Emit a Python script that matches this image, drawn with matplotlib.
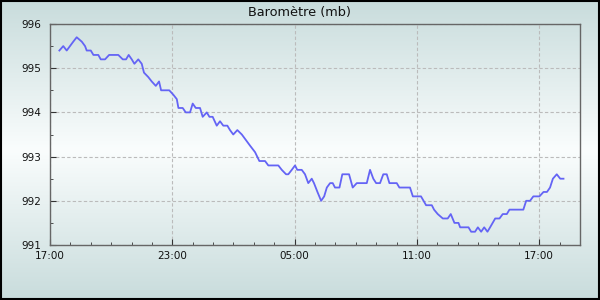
import matplotlib
matplotlib.use("Agg")
import matplotlib.pyplot as plt
import matplotlib.dates as mdates
from matplotlib.ticker import MultipleLocator
from matplotlib.patches import Rectangle
import numpy as np
from datetime import datetime, timedelta

# hours since 17:00 on day one, pressure in mb
hours = [0.46, 0.65, 0.82, 0.98, 1.14, 1.31, 1.56, 1.72, 1.80, 2.00,
         2.13, 2.37, 2.49, 2.70, 2.90, 3.35, 3.57, 3.73, 3.86, 4.01,
         4.14, 4.33, 4.50, 4.61, 4.82, 4.99, 5.19, 5.35, 5.45, 5.85,
         6.05, 6.22, 6.30, 6.51, 6.66, 6.87, 7.00, 7.15, 7.36, 7.49,
         7.69, 7.82, 7.98, 8.18, 8.34, 8.50, 8.70, 8.83, 8.99, 9.19,
         9.41, 9.57, 9.81, 10.06, 10.27, 10.55, 10.71, 11.20, 11.37, 11.58,
         11.69, 11.86, 12.02, 12.13, 12.35, 12.51, 12.67, 12.84, 12.95, 13.12,
         13.30, 13.45, 13.58, 13.74, 13.87, 13.98, 14.20, 14.34, 14.67, 14.85,
         15.05, 15.54, 15.70, 15.86, 16.00, 16.19, 16.35, 16.52, 16.65, 17.01,
         17.14, 17.66, 17.80, 18.20, 18.45, 18.73, 18.84, 19.02, 19.27, 19.51,
         19.66, 19.84, 20.04, 20.12, 20.53, 20.66, 20.85, 20.99, 21.15, 21.30,
         21.46, 21.59, 21.84, 22.05, 22.21, 22.41, 22.54, 23.22, 23.36, 23.55,
         23.71, 24.01, 24.21, 24.38, 24.53, 24.67, 24.86, 25.03, 25.19]
pressure = [995.4, 995.5, 995.4, 995.5, 995.6, 995.7, 995.6, 995.5, 995.4, 995.4,
            995.3, 995.3, 995.2, 995.2, 995.3, 995.3, 995.2, 995.2, 995.3, 995.2,
            995.1, 995.2, 995.1, 994.9, 994.8, 994.7, 994.6, 994.7, 994.5, 994.5,
            994.4, 994.3, 994.1, 994.1, 994.0, 994.0, 994.2, 994.1, 994.1, 993.9,
            994.0, 993.9, 993.9, 993.7, 993.8, 993.7, 993.7, 993.6, 993.5, 993.6,
            993.5, 993.4, 993.25, 993.1, 992.9, 992.9, 992.8, 992.8, 992.7, 992.6,
            992.6, 992.7, 992.8, 992.7, 992.7, 992.6, 992.4, 992.5, 992.4, 992.2,
            992.0, 992.1, 992.3, 992.4, 992.4, 992.3, 992.3, 992.6, 992.6, 992.3,
            992.4, 992.4, 992.7, 992.5, 992.4, 992.4, 992.6, 992.6, 992.4, 992.4,
            992.3, 992.3, 992.1, 992.1, 991.9, 991.9, 991.8, 991.7, 991.6, 991.6,
            991.7, 991.5, 991.5, 991.4, 991.4, 991.3, 991.3, 991.4, 991.3, 991.4,
            991.3, 991.4, 991.6, 991.6, 991.7, 991.7, 991.8, 991.8, 992.0, 992.0,
            992.1, 992.1, 992.2, 992.2, 992.3, 992.5, 992.6, 992.5, 992.5]

start = datetime(2024, 1, 1, 17, 0)
times = [start + timedelta(hours=h) for h in hours]

fig = plt.figure(figsize=(6, 3), dpi=100)

# background gradient: grey-green at top and bottom, white in the middle
bg = fig.add_axes([0, 0, 1, 1], zorder=-10)
t = np.linspace(0, 1, 300)
w = np.abs(t - 0.5) * 2
top = np.array([200, 220, 220]) / 255
mid = np.array([250, 253, 253]) / 255
grad = mid[None, :] * (1 - w[:, None]) + top[None, :] * w[:, None]
bg.imshow(grad[:, None, :], aspect="auto", extent=[0, 1, 0, 1])
bg.axis("off")
fig.patches.append(Rectangle((0.001, 0.002), 0.997, 0.995, transform=fig.transFigure,
                             fill=False, edgecolor="black", linewidth=1.5))

ax = fig.add_axes([50 / 600, 55 / 300, 530 / 600, 221 / 300])
ax.set_facecolor("none")
ax.plot(times, pressure, color="#6464f5", linewidth=1.3)

ax.set_xlim(start, start + timedelta(hours=26))
ax.set_ylim(991, 996)
ax.xaxis.set_major_locator(mdates.HourLocator(byhour=[5, 11, 17, 23]))
ax.xaxis.set_minor_locator(mdates.HourLocator())
ax.xaxis.set_major_formatter(mdates.DateFormatter("%H:%M"))
ax.yaxis.set_major_locator(MultipleLocator(1))
ax.yaxis.set_minor_locator(MultipleLocator(0.5))

ax.grid(True, which="major", color="#bbbbbb", linestyle=(0, (3, 2)), linewidth=0.8)
for s in ax.spines.values():
    s.set_color("#666666")
    s.set_linewidth(1.0)
ax.tick_params(which="both", direction="in", color="#333333", labelsize=7.5,
               labelcolor="#111111")
ax.tick_params(which="major", length=4)
ax.tick_params(which="minor", length=2.3)
ax.tick_params(axis="y", pad=6)
ax.tick_params(axis="x", pad=4)

fig.text(0.5, 0.957, "Baromètre (mb)", ha="center", va="center", fontsize=9.3, color="#111111")

fig.savefig("out.png", dpi=100)
